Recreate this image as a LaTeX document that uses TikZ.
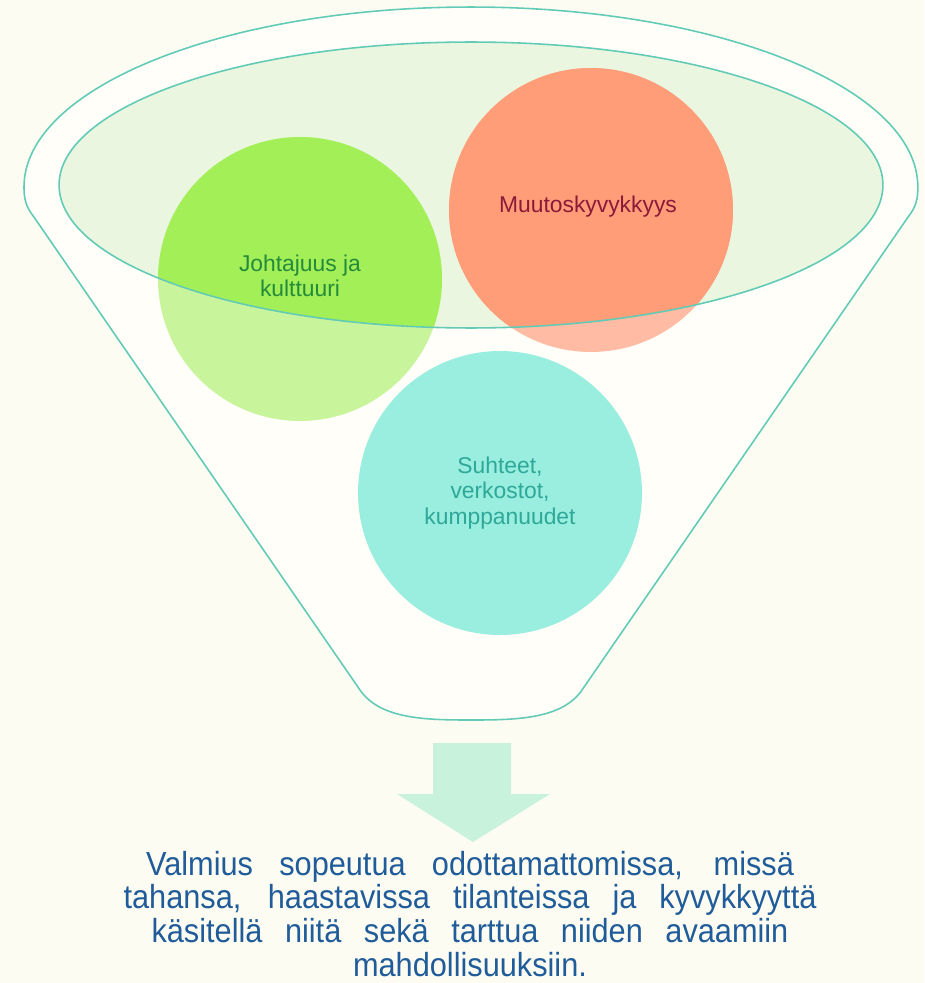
\documentclass[tikz,border=0pt]{standalone}
\usepackage{fontspec}
\setmainfont{Liberation Sans}
\newfontfamily\outcomefont[FakeStretch=0.92]{Liberation Sans}
\usepackage{tikz}
\usetikzlibrary{positioning}
\definecolor{paper}{HTML}{FDFCF3}
\definecolor{funnelin}{HTML}{FFFEF9}
\definecolor{rim}{HTML}{62CBB6}
\definecolor{bowl}{HTML}{EAF6E0}
\definecolor{leadfull}{HTML}{A3EF58}
\definecolor{leadlight}{HTML}{C8F59C}
\definecolor{changefull}{HTML}{FF9D78}
\definecolor{changelight}{HTML}{FFBBA3}
\definecolor{linkfill}{HTML}{99EEDF}
\definecolor{leadtext}{HTML}{238B3A}
\definecolor{changetext}{HTML}{8B1A3A}
\definecolor{linktext}{HTML}{2EA898}
\definecolor{outcometext}{HTML}{1F5C99}
\definecolor{arrowmint}{HTML}{C9F2DC}
\tikzset{
	bubble/.style={circle, inner sep=0pt, minimum size=5.68cm},
	bubbletext/.style={align=center, font=\fontsize{13}{14.5}\selectfont},
	rimline/.style={draw=rim, line width=0.9pt}
}

\begin{document}
\begin{tikzpicture}[x=0.02cm, y=-0.02cm]
		\fill[paper] (0,0) rectangle (924,983);
		\useasboundingbox (0,0) rectangle (924,983);
		\filldraw[rimline, fill=funnelin] (24,187) arc[start angle=180, end angle=0, x radius=8.94cm, y radius=3.6cm]
			.. controls (918,205) and (913,210) .. (906,220) -- (582,690)
			.. controls (562,719) and (517,720) .. (471,720)
			.. controls (425,720) and (380,719) .. (360,690) -- (36,220)
			.. controls (29,210) and (24,205) .. (24,187) -- cycle;
		\fill[bowl] (471,185) ellipse[x radius=8.24cm, y radius=2.86cm];
		\node[bubble, fill=leadlight] at (300,279) (lead) {};
		\node[bubble, fill=changelight] at (591,210) (change) {};
		\node[bubble, fill=linkfill] at (500,493) (link) {};
		\begin{scope}
			\clip (471,185) ellipse[x radius=8.24cm, y radius=2.86cm];
			\fill[leadfull] (lead.center) circle[radius=2.84cm];
			\fill[changefull] (change.center) circle[radius=2.84cm];
		\end{scope}
		\draw[rimline] (471,185) ellipse[x radius=8.24cm, y radius=2.86cm];
		\node[bubbletext, text=leadtext] at (300,276) (leadlbl) {Johtajuus ja\\kulttuuri};
		\node[bubbletext, text=changetext] at (588,207) (changelbl) {Muutoskyvykkyys};
		\node[bubbletext, text=linktext] at (500,493) (linklbl) {Suhteet,\\verkostot,\\kumppanuudet};
		\fill[arrowmint] (433,743) -- (511,743) -- (511,794) -- (550,794) -- (473,842) -- (397,794) -- (433,794) -- cycle;
		\node[align=center, text=outcometext, font=\outcomefont\fontsize{19}{19.3}\selectfont] at (470,914) (outcome)
			{\makebox[12.96cm][s]{Valmius sopeutua odottamattomissa, missä}\\
			 \makebox[13.86cm][s]{tahansa, haastavissa tilanteissa ja kyvykkyyttä}\\
			 \makebox[12.74cm][s]{käsitellä niitä sekä tarttua niiden avaamiin}\\
			 mahdollisuuksiin.};
	\end{tikzpicture}
\end{document}
